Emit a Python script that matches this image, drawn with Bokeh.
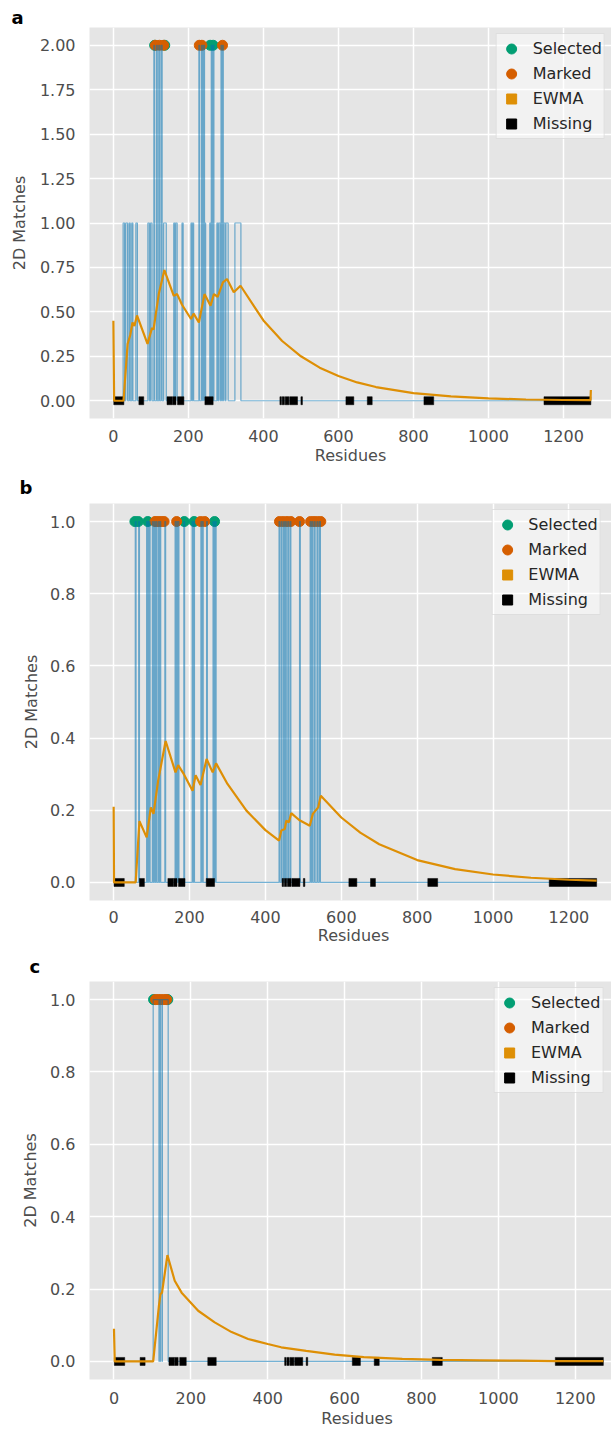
import numpy as np
from bokeh.plotting import figure
from bokeh.models import (FixedTicker, PrintfTickFormatter, Legend, LegendItem, Range1d)
from bokeh.layouts import column
from bokeh.embed import file_html
from bokeh.resources import INLINE

# ---------------- data ----------------
RESIDUE_TICKS = [0, 200, 400, 600, 800, 1000, 1200]
SEQ_LEN = 1273

# missing residue segments (same structure in all three panels)
MISSING_START = [1, 68, 143, 158, 171, 244, 444, 450, 458, 470, 500, 620, 677, 828, 1148]
MISSING_END = [28, 81, 157, 167, 188, 266, 448, 456, 468, 491, 504, 641, 690, 854, 1273]

# panel a: 2D match pulses (start, end, count)
A_START = [26, 33, 42, 49, 60, 92, 99,
           108, 115, 121, 127, 134,
           161, 166, 183, 207, 211,
           228, 235, 240, 243, 257, 261, 266,
           276, 281, 287, 291, 294, 300, 324]
A_END = [30, 38, 45, 52, 64, 96, 103,
         110, 117, 123, 130, 141,
         164, 170, 186, 210, 214,
         230, 238, 243, 246, 259, 263, 268,
         279, 285, 289, 293, 298, 306, 340]
A_COUNT = [1, 1, 1, 1, 1, 1, 1,
           2, 2, 2, 2, 1,
           1, 1, 1, 1, 1,
           2, 2, 2, 1, 1, 2, 2,
           1, 1, 2, 2, 1, 1, 1]
A_SELECTED = [110, 137, 258, 266]
A_MARKED = [112, 123, 134, 229, 236, 291]
A_EWMA_X = [0, 2, 27, 38, 45, 51, 56, 63, 91, 103, 107, 121, 136, 161, 170, 183,
            207, 214, 228, 243, 259, 268, 278, 292, 303, 321, 339,
            400, 450, 500, 550, 600, 650, 700, 800, 900, 1000, 1100, 1200, 1272, 1273]
A_EWMA_Y = [0.45, 0.0, 0.0, 0.32, 0.37, 0.44, 0.42, 0.48, 0.32, 0.41, 0.40, 0.60, 0.735,
            0.59, 0.60, 0.54, 0.46, 0.49, 0.44, 0.60, 0.535, 0.60, 0.585, 0.666, 0.685,
            0.61, 0.647, 0.452, 0.336, 0.250, 0.186, 0.139, 0.103, 0.077, 0.043, 0.024,
            0.013, 0.007, 0.004, 0.003, 0.06]

# panel b
B_START = [57, 66, 87, 90, 93, 102, 107, 112, 118, 122, 135, 162, 166, 170, 185,
           207, 211, 230, 234, 245, 262, 267,
           436, 442, 448, 453, 459, 465, 490, 518, 523, 529, 536, 542]
B_END = [59, 68, 89, 92, 96, 104, 109, 114, 120, 124, 137, 164, 168, 172, 187,
         209, 213, 232, 236, 247, 264, 270,
         438, 444, 450, 455, 461, 467, 492, 520, 525, 531, 538, 545]
B_COUNT = [1] * 34
B_SELECTED = [56, 65, 90, 186, 212, 266]
B_MARKED = [109, 117, 125, 133, 166, 229, 240, 437, 447, 457, 467, 490, 519, 528, 537, 546]
B_EWMA_X = [0, 1, 58, 68, 87, 98, 105, 117, 137, 163, 170, 185, 208, 216, 229, 245,
            261, 270, 300, 350, 400, 436, 442, 451, 455, 462, 468, 489, 517, 525, 539,
            546, 600, 650, 700, 800, 900, 1000, 1100, 1200, 1273]
B_EWMA_Y = [0.21, 0.0, 0.0, 0.17, 0.125, 0.208, 0.19, 0.28, 0.392, 0.305, 0.325, 0.30,
            0.254, 0.297, 0.27, 0.342, 0.305, 0.33, 0.273, 0.199, 0.145, 0.116, 0.144,
            0.148, 0.171, 0.167, 0.192, 0.173, 0.157, 0.19, 0.208, 0.24, 0.180, 0.138,
            0.106, 0.062, 0.037, 0.022, 0.013, 0.0075, 0.005]

# panel c
C_START = [102, 118, 121, 126]
C_END = [117, 120, 125, 141]
C_COUNT = [1, 1, 1, 1]
C_SELECTED = [103, 140]
C_MARKED = [108, 115, 122, 130, 137]
C_EWMA_X = [0, 2, 102, 117, 121, 125, 139, 158, 176, 219, 262, 306, 349, 400, 435,
            500, 574, 650, 750, 850, 950, 1050, 1150, 1273]
C_EWMA_Y = [0.09, 0.0, 0.0, 0.154, 0.186, 0.19, 0.294, 0.223, 0.19, 0.14, 0.108, 0.081,
            0.062, 0.048, 0.039, 0.029, 0.019, 0.012, 0.007, 0.004, 0.003, 0.002, 0.001,
            0.001]

# ---------------- style ----------------
FONT = "DejaVu Sans"
BLUE = "#0173B2"
ORANGE = "#DE8F05"
GREEN = "#029E73"
RED = "#D55E00"
TEXT = "#4d4d4d"
PAGE_W = 611


def pulse_line(starts, ends, counts):
    xs, ys = [0], [0]
    for s, e, c in zip(starts, ends, counts):
        xs += [s, s, e, e]
        ys += [0, c, c, 0]
    xs.append(SEQ_LEN)
    ys.append(0)
    return xs, ys


def panel(letter, starts, ends, counts, selected, marked, ewx, ewy, top, yticks, fmt,
          border_left, border_top, frame_h, border_bottom, title_standoff, title_x,
          ylabel_standoff, xtick_standoff, xlabel_standoff):
    ymin, ymax = -0.05 * top, 1.05 * top
    p = figure(frame_width=PAGE_W - border_left, frame_height=frame_h,
               min_border_left=border_left, min_border_right=0,
               min_border_top=border_top, min_border_bottom=border_bottom,
               x_range=Range1d(-63.65, 1328), y_range=Range1d(ymin, ymax),
               output_backend="svg", toolbar_location=None,
               background_fill_color="#E5E5E5", border_fill_color="white",
               outline_line_color=None, title=letter)
    p.title.text_font = FONT
    p.title.text_font_size = "18px"
    p.title.text_font_style = "bold"
    p.title.text_color = "black"
    p.title.align = "left"
    p.title.offset = title_x - border_left
    p.title.standoff = title_standoff

    for g in (p.xgrid, p.ygrid):
        g.grid_line_color = "white"
        g.grid_line_width = 1.5
    p.xaxis.ticker = FixedTicker(ticks=RESIDUE_TICKS)
    p.yaxis.ticker = FixedTicker(ticks=yticks)
    p.yaxis.formatter = PrintfTickFormatter(format=fmt)
    for ax in (p.xaxis, p.yaxis):
        ax.axis_line_color = None
        ax.major_tick_line_color = None
        ax.minor_tick_line_color = None
        ax.major_tick_out = 0
        ax.major_tick_in = 0
        ax.major_label_text_font = FONT
        ax.major_label_text_font_size = "16px"
        ax.major_label_text_color = TEXT
        ax.axis_label_text_font = FONT
        ax.axis_label_text_font_size = "16px"
        ax.axis_label_text_font_style = "normal"
        ax.axis_label_text_color = TEXT
    p.xaxis.axis_label = "Residues"
    p.yaxis.axis_label = "2D Matches"
    p.xaxis.major_label_standoff = xtick_standoff
    p.xaxis.axis_label_standoff = xlabel_standoff
    p.yaxis.major_label_standoff = 14
    p.yaxis.axis_label_standoff = ylabel_standoff

    r_sel = p.scatter(selected, [top] * len(selected), marker="circle", size=10,
                      fill_color=GREEN, line_color=GREEN)
    r_mark = p.scatter(marked, [top] * len(marked), marker="circle", size=10,
                       fill_color=RED, line_color=RED)

    lx, ly = pulse_line(starts, ends, counts)
    p.line(lx, ly, line_color=BLUE, line_alpha=0.55, line_width=1.2)

    mx = [(s + e) / 2 for s, e in zip(MISSING_START, MISSING_END)]
    mw = [e - s for s, e in zip(MISSING_START, MISSING_END)]
    p.rect(x=mx, y=[0] * len(mx), width=mw, height=8, height_units="screen",
           fill_color="black", line_color="black", line_width=0.5)

    p.line(ewx, ewy, line_color=ORANGE, line_width=2.2)

    nan = np.array([np.nan])
    r_ew = p.scatter(x=nan, y=nan, marker="square", size=12, fill_color=ORANGE,
                     line_color=ORANGE)
    r_miss = p.scatter(x=nan, y=nan, marker="square", size=12, fill_color="black",
                       line_color="black")

    legend = Legend(items=[LegendItem(label="Selected", renderers=[r_sel]),
                           LegendItem(label="Marked", renderers=[r_mark]),
                           LegendItem(label="EWMA", renderers=[r_ew]),
                           LegendItem(label="Missing", renderers=[r_miss])],
                    location="top_right", margin=6, padding=2, spacing=0,
                    glyph_width=25, glyph_height=25, label_standoff=9,
                    label_text_font=FONT, label_text_font_size="16px",
                    label_text_color="#262626", label_height=20,
                    background_fill_color="white", background_fill_alpha=0.5,
                    border_line_color="#d0d0d0", border_line_alpha=0.6)
    p.add_layout(legend)
    return p


pa = panel("a", A_START, A_END, A_COUNT, A_SELECTED, A_MARKED, A_EWMA_X, A_EWMA_Y, 2.0,
           [0, 0.25, 0.5, 0.75, 1.0, 1.25, 1.5, 1.75, 2.0], "%.2f",
           89, 27, 391, 50, 0, 11, 8, 11, 1)
pb = panel("b", B_START, B_END, B_COUNT, B_SELECTED, B_MARKED, B_EWMA_X, B_EWMA_Y, 1.0,
           [0, 0.2, 0.4, 0.6, 0.8, 1.0], "%.1f",
           83, 34, 397, 48, 12, 13, 6, 10, 0)
pc = panel("c", C_START, C_END, C_COUNT, C_SELECTED, C_MARKED, C_EWMA_X, C_EWMA_Y, 1.0,
           [0, 0.2, 0.4, 0.6, 0.8, 1.0], "%.1f",
           76, 32, 398, 52, 10, 16, 7, 12, 2)

layout = column(pa, pb, pc, spacing=0)
open("out.html", "w").write(file_html(layout, INLINE))
